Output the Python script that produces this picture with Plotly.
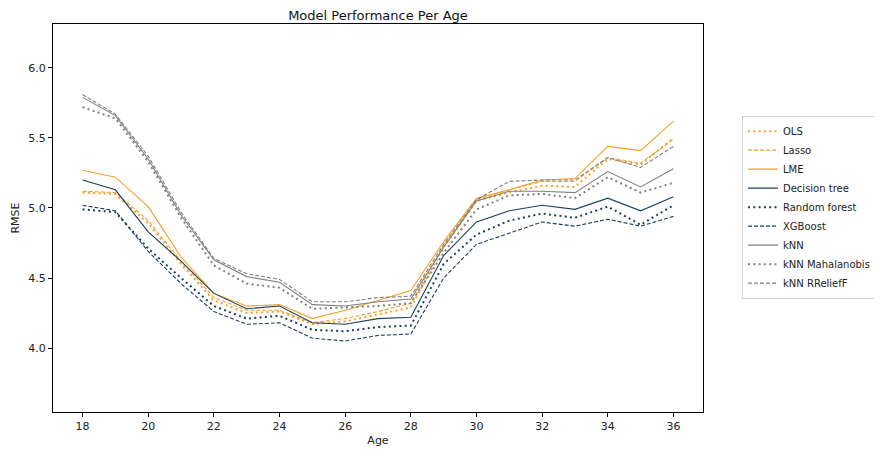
import plotly.graph_objects as go

ages = list(range(18, 37))

ols = [5.11, 5.10, 4.89, 4.60, 4.34, 4.25, 4.26, 4.17, 4.19, 4.24, 4.29, 4.72, 5.05, 5.11, 5.16, 5.15, 5.35, 5.31, 5.50]
lasso = [5.12, 5.11, 4.91, 4.62, 4.36, 4.27, 4.27, 4.18, 4.21, 4.26, 4.32, 4.73, 5.06, 5.13, 5.19, 5.19, 5.36, 5.32, 5.49]
lme = [5.27, 5.22, 5.01, 4.65, 4.39, 4.30, 4.31, 4.21, 4.27, 4.34, 4.41, 4.76, 5.07, 5.13, 5.20, 5.21, 5.44, 5.41, 5.62]
decision_tree = [5.20, 5.13, 4.83, 4.62, 4.39, 4.28, 4.30, 4.18, 4.17, 4.21, 4.22, 4.66, 4.90, 4.98, 5.02, 4.99, 5.07, 4.98, 5.08]
random_forest = [4.99, 4.97, 4.71, 4.50, 4.30, 4.21, 4.23, 4.13, 4.12, 4.15, 4.16, 4.60, 4.81, 4.91, 4.96, 4.93, 5.01, 4.88, 5.02]
xgboost = [5.02, 4.98, 4.69, 4.46, 4.26, 4.17, 4.18, 4.07, 4.05, 4.09, 4.10, 4.50, 4.74, 4.82, 4.90, 4.87, 4.92, 4.87, 4.94]
knn = [5.79, 5.66, 5.35, 4.95, 4.63, 4.51, 4.47, 4.31, 4.30, 4.33, 4.35, 4.72, 5.05, 5.12, 5.12, 5.11, 5.26, 5.15, 5.28]
knn_mahalanobis = [5.72, 5.64, 5.33, 4.93, 4.59, 4.46, 4.43, 4.28, 4.29, 4.30, 4.32, 4.68, 4.99, 5.09, 5.10, 5.07, 5.22, 5.11, 5.18]
knn_relieff = [5.81, 5.67, 5.37, 4.97, 4.64, 4.53, 4.49, 4.33, 4.33, 4.36, 4.37, 4.74, 5.06, 5.19, 5.20, 5.20, 5.36, 5.29, 5.44]

ORANGE = "#F5A02A"
NAVY = "#1C3F63"
GRAY = "#808080"

DOT = "2px,3.3px"
DASH = "4px,2px"

series = [
    ("OLS", ols, ORANGE, DOT, 2.0),
    ("Lasso", lasso, ORANGE, DASH, 1.1),
    ("LME", lme, ORANGE, "solid", 1.1),
    ("Decision tree", decision_tree, NAVY, "solid", 1.1),
    ("Random forest", random_forest, NAVY, DOT, 2.0),
    ("XGBoost", xgboost, NAVY, DASH, 1.1),
    ("kNN", knn, GRAY, "solid", 1.1),
    ("kNN Mahalanobis", knn_mahalanobis, GRAY, DOT, 2.0),
    ("kNN RReliefF", knn_relieff, GRAY, DASH, 1.1),
]

fig = go.Figure()
for name, vals, color, dash, width in series:
    fig.add_trace(go.Scatter(
        x=ages, y=vals, mode="lines", name=name,
        line=dict(color=color, dash=dash, width=width),
    ))

axis_common = dict(
    showline=True, linecolor="black", linewidth=1, mirror=True,
    ticks="outside", ticklen=4, tickcolor="black", showgrid=False,
    zeroline=False, automargin=False,
    tickfont=dict(family="DejaVu Sans", size=11, color="#222"),
)

# page has an 8px body margin, so the figure is 874x442 placed at (8, 8)
W, H = 874, 442
L, R, T, B = 45, 179, 16, 38

fig.update_layout(
    width=W, height=H,
    margin=dict(l=L, r=R, t=T, b=B, autoexpand=False),
    plot_bgcolor="white", paper_bgcolor="white",
    font=dict(family="DejaVu Sans", size=11, color="#222"),
    title=dict(text="Model Performance Per Age", x=(L + (W - R)) / 2 / W, xanchor="center",
               y=1 - 7 / H, yanchor="middle", pad=dict(t=0, b=0), automargin=False,
               font=dict(size=13, color="#111")),
    xaxis=dict(range=[17.1, 36.9], tickvals=list(range(18, 37, 2)),
               title=dict(text="Age", standoff=4, font=dict(size=11)), **axis_common),
    yaxis=dict(range=[3.543, 6.314], tickvals=[4.0, 4.5, 5.0, 5.5, 6.0], tickformat=".1f",
               title=dict(text="RMSE", standoff=6, font=dict(size=11)), **axis_common),
    legend=dict(x=1.06, xanchor="left", y=0.528, yanchor="middle",
                bordercolor="#d0d0d0", borderwidth=1, bgcolor="white",
                font=dict(size=10, color="#222"), tracegroupgap=0, itemwidth=30),
)

fig.write_html("out.html")
